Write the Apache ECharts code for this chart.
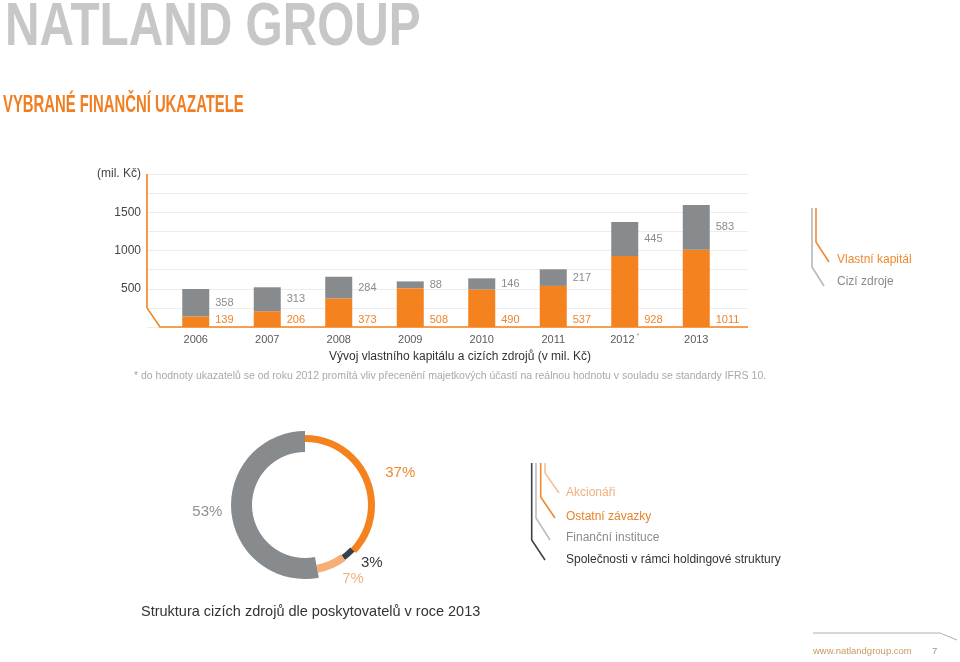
<!DOCTYPE html>
<html><head><meta charset="utf-8">
<script src="https://cdn.jsdelivr.net/npm/echarts@6/dist/echarts.min.js"></script>
<style>html,body{margin:0;padding:0;background:#fff}#c{width:960px;height:662px}</style>
</head><body><div id="c"></div>
<script>
// ---- data ----
const years = ['2006','2007','2008','2009','2010','2011','2012*','2013'];
const equity = [139,206,373,508,490,537,928,1011];   // Vlastní kapitál
const debt = [358,313,284,88,146,217,445,583];       // Cizí zdroje
const yTicks = [500,1000,1500];
const yUnit = '(mil. Kč)';
const seriesNames = ['Vlastní kapitál','Cizí zdroje'];
const pieNames = ['Ostatní závazky','Společnosti v rámci holdingové struktury','Akcionáři','Finanční instituce'];
const pieValues = [37,3,7,53];
const pieLegendOrder = ['Akcionáři','Ostatní závazky','Finanční instituce','Společnosti v rámci holdingové struktury'];

// ---- styles ----
const ORANGE = '#f4821f', GRAY = '#878b8e', LIGHT = '#f7ad76', DARK = '#394047';
const FONT = '"Liberation Sans", Arial, sans-serif';
const G0 = {left:147, right:212, top:174, height:153};
const G1 = {left:160, width:572, top:174, height:153};

const chart = echarts.init(document.getElementById('c'), null, {renderer:'canvas'});

const pieRadii = [[63,70],[62,68],[61,69],[53,74]];
const pieLabelLen = [12,9,12,4];
const pieColors = [ORANGE, DARK, LIGHT, GRAY];
const pieTextColors = ['#f08a2e','#333a40','#f3b17f','#8e9295'];
const pieSeries = pieNames.map((nm,k)=>({
  type:'pie', center:[305,505], radius:pieRadii[k], startAngle:90, clockwise:true,
  silent:true, avoidLabelOverlap:false, emphasis:{disabled:true}, minShowLabelAngle:0,
  labelLine:{show:false, length:pieLabelLen[k], length2:0},
  itemStyle:{borderWidth:0},
  data: pieNames.map((n,j)=>({
    name:n, value:pieValues[j],
    itemStyle:{color: j===k ? pieColors[k] : 'rgba(0,0,0,0)'},
    label: j===k ? {show:true, position:'outside', formatter:p=>p.value+'%',
      color:pieTextColors[k], fontSize:15, fontFamily:FONT} : {show:false}
  }))
}));

const option = {
  animation:false,
  grid:[
    {left:G0.left, right:G0.right, top:G0.top, height:G0.height},
    {left:G1.left, width:G1.width, top:G1.top, height:G1.height}
  ],
  xAxis:[
    {gridIndex:0, type:'value', show:false, min:0, max:1},
    {gridIndex:1, type:'category', data:years, boundaryGap:true,
      axisLine:{show:false}, axisTick:{show:false},
      axisLabel:{interval:0, margin:6, color:'#5a5a5a', fontSize:11, fontFamily:FONT,
        formatter:v=> v.endsWith('*') ? '{n|'+v.slice(0,-1)+'}{s|*}' : '{n|'+v+'}',
        rich:{n:{fontSize:11, lineHeight:14, color:'#5a5a5a', fontFamily:FONT},
              s:{fontSize:7, color:'#999', verticalAlign:'top', padding:[0,0,0,2], fontFamily:FONT}}}}
  ],
  yAxis:[
    {gridIndex:0, type:'value', min:0, max:2000, interval:250,
      axisLine:{show:false}, axisTick:{show:false},
      splitLine:{lineStyle:{color:'#ececec', width:1}},
      axisLabel:{margin:6, color:'#444', fontSize:12, fontFamily:FONT,
        formatter:v=> v===2000 ? yUnit : (yTicks.includes(v) ? String(v) : '')}},
    {gridIndex:1, type:'value', min:0, max:2000, show:false}
  ],
  series:[
    {name:seriesNames[0], type:'bar', xAxisIndex:1, yAxisIndex:1, stack:'a', data:equity,
      barWidth:27, itemStyle:{color:ORANGE},
      label:{show:true, position:['100%','100%'], align:'left', verticalAlign:'bottom',
        offset:[6,-2], color:'#f0842c', fontSize:11, fontFamily:FONT}},
    {name:seriesNames[1], type:'bar', xAxisIndex:1, yAxisIndex:1, stack:'a', data:debt,
      barWidth:27, itemStyle:{color:GRAY},
      label:{show:true, position:'right', distance:6, color:'#8c8c8c', fontSize:11, fontFamily:FONT}},
    ...pieSeries
  ]
};
chart.setOption(option);

function txt(x,y,text,color,size,opts={}){
  return Object.assign({type:'text', x, y, silent:true, style:{text, fill:color,
    font:(opts.weight||'normal')+' '+size+'px '+FONT,
    textAlign:opts.align||'left', align:opts.align||'left',
    textVerticalAlign:'middle', verticalAlign:'middle'}}, opts.el||{});
}
function pl(points,color,w){
  return {type:'polyline', silent:true, shape:{points}, style:{stroke:color, lineWidth:w, fill:null}};
}

const yZero = chart.convertToPixel({yAxisIndex:0}, 0);
const yFirst = chart.convertToPixel({yAxisIndex:0}, 250);
const yTop = chart.convertToPixel({yAxisIndex:0}, 2000);
const gRight = 960 - G0.right;

const graphics = [
  txt(5,28,'NATLAND GROUP','#c7c7c7',61,{weight:'bold', el:{scaleX:0.783}}),
  txt(3,106,'VYBRANÉ FINANČNÍ UKAZATELE','#ef7f22',23,{weight:'bold', el:{scaleX:0.646}}),
  pl([[G0.left,yTop],[G0.left,yFirst],[G1.left,yZero],[gRight,yZero]], ORANGE, 1.6),
  txt(460,357,'Vývoj vlastního kapitálu a cizích zdrojů (v mil. Kč)','#333',12,{align:'center'}),
  txt(134,376,'* do hodnoty ukazatelů se od roku 2012 promítá vliv přecenění majetkových účastí na reálnou hodnotu v souladu se standardy IFRS 10.','#a9a9a9',10.5),
  // bar legend
  pl([[812,208],[812,267],[824,286]], '#b5b9bc', 1.6),
  pl([[816,208],[816,242],[829,262]], '#ef8a33', 1.6),
  txt(837,260,seriesNames[0],'#ee8a33',12),
  txt(837,282,seriesNames[1],'#8a8a8a',12),
  // pie legend
  pl([[531.7,463],[531.7,540],[545,560]], '#3d4348', 1.6),
  pl([[536,463],[536,518],[550,540]], '#bdbdbd', 1.6),
  pl([[540.7,463],[540.7,497],[555,518]], '#ee8a30', 1.6),
  pl([[545,463],[545,473],[559,493]], '#f5c096', 1.6),
  txt(566,493,pieLegendOrder[0],'#f2b07e',12),
  txt(566,517,pieLegendOrder[1],'#e9832b',12),
  txt(566,538,pieLegendOrder[2],'#8c8c8c',12),
  txt(566,560,pieLegendOrder[3],'#333',12),
  txt(141,612,'Struktura cizích zdrojů dle poskytovatelů v roce 2013','#333',14.5),
  // footer
  pl([[813,633],[940,633],[957,640]], '#9a9a9a', 0.8),
  txt(813,651,'www.natlandgroup.com','#c79a62',9.5),
  txt(932,651,'7','#999',9.5)
];
chart.setOption({graphic:graphics});
</script></body></html>
